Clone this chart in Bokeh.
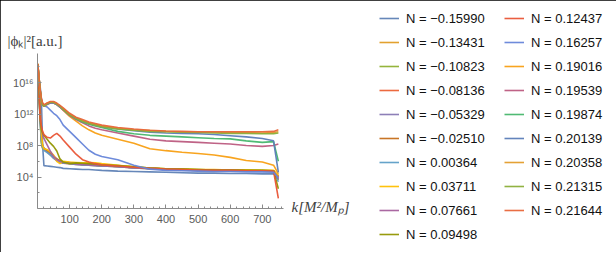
from bokeh.plotting import figure
from bokeh.models import (FixedTicker, CustomJSTickFormatter, Legend, LegendItem,
                          Title, ColumnDataSource, Range1d)
from bokeh.embed import file_html
from bokeh.resources import INLINE

# ---------------- data (log10 of |phi_k|^2) ----------------
K = [1, 4, 8, 12, 16, 20, 30, 40, 50, 60, 70, 80, 100, 120, 140, 160, 180, 200,
     250, 300, 350, 400, 450, 500, 550, 600, 650, 700, 735, 750]

N_LABELS = ["N = \u22120.15990", "N = \u22120.13431", "N = \u22120.10823", "N = \u22120.08136",
            "N = \u22120.05329", "N = \u22120.02510", "N = 0.00364", "N = 0.03711",
            "N = 0.07661", "N = 0.09498", "N = 0.12437", "N = 0.16257",
            "N = 0.19016", "N = 0.19539", "N = 0.19874", "N = 0.20139",
            "N = 0.20358", "N = 0.21315", "N = 0.21644"]

COLORS = ["#5E81B5", "#E09C24", "#8FB032", "#EB6235", "#8778B3", "#C56E1A", "#5D9EC7",
          "#FFBF00", "#A5609D", "#929600", "#E95536", "#6685D9", "#F89F13", "#BC5B80",
          "#47B66D", "#5B7DB8", "#E39C2A", "#8BAE38", "#E8663A"]

S01 = [17.6, 16.8, 15.6, 14.0, 8.0, 5.45, 5.4, 5.35, 5.3, 5.25, 5.2, 5.1, 5.05, 5.0, 4.95,
       4.95, 4.9, 4.85, 4.75, 4.7, 4.65, 4.6, 4.55, 4.5, 4.5, 4.45, 4.45, 4.4, 4.4, 4.2]
S02 = [18.2, 15.5, 12.0, 8.5, 7.6, 7.5, 7.3, 7.0, 6.6, 6.2, 6.0, 5.9, 5.8, 5.7, 5.65, 5.6,
       5.55, 5.5, 5.4, 5.25, 5.1, 5.0, 4.95, 4.9, 4.9, 4.85, 4.85, 4.8, 4.8, 3.9]
S03 = [18.1, 15.3, 11.5, 8.3, 7.7, 7.6, 7.2, 6.9, 6.5, 6.3, 5.9, 5.8, 5.85, 5.75, 5.7, 5.75,
       5.7, 5.6, 5.45, 5.3, 5.15, 5.05, 5.0, 4.95, 4.9, 4.9, 4.85, 4.85, 4.8, 3.6]
S04 = [18.3, 15.8, 12.3, 8.8, 7.8, 7.5, 7.2, 6.8, 6.4, 6.1, 5.9, 5.75, 5.7, 5.6, 5.55, 5.5,
       5.45, 5.4, 5.3, 5.15, 5.05, 4.95, 4.9, 4.85, 4.8, 4.8, 4.75, 4.75, 4.7, 4.0]
S05 = [18.0, 15.0, 11.8, 8.9, 8.0, 7.7, 7.3, 6.9, 6.5, 6.2, 6.0, 5.8, 5.75, 5.65, 5.6, 5.55,
       5.5, 5.45, 5.35, 5.2, 5.1, 5.0, 4.95, 4.9, 4.85, 4.85, 4.8, 4.8, 4.75, 3.7]
S06 = [18.2, 15.6, 12.5, 9.0, 7.9, 7.6, 7.4, 7.1, 6.7, 6.3, 6.1, 5.9, 5.8, 5.7, 5.6, 5.6,
       5.5, 5.45, 5.35, 5.2, 5.1, 5.0, 4.95, 4.9, 4.9, 4.85, 4.85, 4.8, 4.8, 4.1]
S07 = [18.1, 15.2, 11.2, 8.6, 7.7, 7.4, 7.1, 6.8, 6.4, 6.1, 5.9, 5.8, 5.7, 5.6, 5.55, 5.5,
       5.45, 5.4, 5.3, 5.15, 5.05, 4.95, 4.9, 4.85, 4.8, 4.75, 4.75, 4.7, 4.7, 3.4]
S08 = [18.4, 16.0, 13.0, 9.5, 8.0, 7.6, 7.5, 7.2, 6.8, 6.0, 5.7, 6.0, 5.9, 5.85, 5.8, 5.85,
       5.8, 5.7, 5.5, 5.3, 5.15, 5.05, 5.0, 4.95, 4.95, 4.9, 4.9, 4.85, 4.85, 4.2]
S09 = [18.2, 15.9, 13.0, 10.3, 9.4, 8.9, 8.1, 7.3, 6.6, 6.2, 6.0, 5.85, 5.75, 5.65, 5.6, 5.55,
       5.5, 5.45, 5.35, 5.2, 5.1, 5.0, 4.95, 4.9, 4.85, 4.85, 4.8, 4.8, 4.75, 3.8]
S10 = [18.3, 15.5, 11.5, 10.0, 9.6, 9.3, 8.8, 8.3, 7.9, 7.3, 6.3, 5.9, 5.7, 5.8, 5.75, 5.7,
       5.65, 5.55, 5.45, 5.3, 5.15, 5.05, 5.0, 4.95, 4.9, 4.9, 4.85, 4.85, 4.8, 2.5]
S11 = [18.3, 16.2, 11.5, 10.5, 9.8, 9.4, 9.05, 8.95, 9.3, 9.55, 9.2, 8.7, 7.8, 6.9, 6.2, 5.9,
       5.7, 5.55, 5.4, 5.25, 5.1, 5.0, 4.95, 4.9, 4.85, 4.85, 4.8, 4.8, 4.75, 1.3]
S12 = [18.3, 16.8, 15.0, 13.8, 13.3, 13.1, 12.9, 12.5, 12.1, 11.8, 11.3, 10.6, 9.8, 9.0, 8.2,
       7.4, 6.9, 6.6, 6.2, 5.5, 5.0, 4.85, 4.8, 4.75, 4.7, 4.7, 4.65, 4.65, 4.6, 3.9]
S13 = [18.3, 16.8, 15.0, 13.7, 13.1, 13.0, 13.3, 13.5, 13.4, 13.2, 12.9, 12.5, 11.7, 11.1,
       10.5, 10.0, 9.6, 9.3, 8.8, 8.3, 7.6, 7.35, 7.15, 7.0, 6.8, 6.5, 6.1, 5.9, 5.5, 4.4]
S14 = [18.2, 16.7, 14.9, 13.8, 13.2, 13.0, 13.2, 13.4, 13.4, 13.2, 12.9, 12.5, 11.8, 11.3,
       10.9, 10.5, 10.2, 10.0, 9.6, 9.2, 8.8, 8.6, 8.5, 8.4, 8.3, 8.2, 8.0, 7.9, 8.0, 8.2]
S15 = [18.3, 16.8, 15.0, 13.8, 13.2, 13.1, 13.3, 13.5, 13.5, 13.3, 13.0, 12.6, 11.9, 11.4,
       11.0, 10.7, 10.5, 10.3, 9.8, 9.5, 9.3, 9.2, 9.1, 9.0, 8.9, 8.85, 8.6, 8.4, 8.5, 6.0]
S16 = [18.3, 16.9, 15.1, 13.9, 13.3, 13.1, 13.3, 13.4, 13.4, 13.2, 12.9, 12.6, 12.0, 11.5,
       11.1, 10.8, 10.6, 10.4, 10.1, 9.9, 9.7, 9.6, 9.55, 9.5, 9.4, 9.25, 9.1, 8.9, 8.6, 4.6]
S17 = [18.4, 17.0, 15.2, 13.9, 13.3, 13.1, 13.4, 13.5, 13.5, 13.3, 13.0, 12.7, 12.0, 11.5,
       11.2, 10.9, 10.7, 10.5, 10.2, 10.0, 9.9, 9.8, 9.75, 9.7, 9.7, 9.65, 9.65, 9.6, 9.65, 9.75]
S18 = [18.3, 16.9, 15.1, 13.8, 13.2, 13.0, 13.3, 13.5, 13.5, 13.3, 13.0, 12.6, 11.9, 11.5,
       11.1, 10.8, 10.6, 10.4, 10.1, 9.95, 9.8, 9.75, 9.7, 9.65, 9.6, 9.55, 9.55, 9.5, 9.5, 9.6]
S19 = [18.4, 17.0, 15.2, 14.0, 13.4, 13.2, 13.4, 13.6, 13.6, 13.4, 13.1, 12.8, 12.1, 11.6,
       11.3, 11.0, 10.8, 10.6, 10.3, 10.1, 9.95, 9.85, 9.8, 9.75, 9.75, 9.75, 9.75, 9.75, 9.8, 10.0]

SERIES = [S01, S02, S03, S04, S05, S06, S07, S08, S09, S10,
          S11, S12, S13, S14, S15, S16, S17, S18, S19]

X_TICKS = [100, 200, 300, 400, 500, 600, 700]
X_MINOR = [20, 40, 60, 80, 120, 140, 160, 180, 220, 240, 260, 280, 320, 340, 360, 380,
           420, 440, 460, 480, 520, 540, 560, 580, 620, 640, 660, 680, 720, 740, 760]
Y_TICKS = [1e4, 1e8, 1e12, 1e16]
Y_MINOR = [1e0, 1e2, 1e6, 1e10, 1e14, 1e18]

# frame position inside the canvas (pixels)
W, H = 615, 252
FL, FR, FT, FB = 37, 283, 53, 208

# ---------------- figure ----------------
p = figure(frame_width=FR - FL, frame_height=FB - FT, y_axis_type="log",
           x_range=Range1d(0, 766), y_range=Range1d(1, 10 ** 19.7),
           output_backend="svg", toolbar_location=None,
           min_border_left=FL, min_border_right=W - FR,
           min_border_top=FT, min_border_bottom=H - FB)
p.styles = {"outline": "1.5px solid black", "outline-offset": "-1.5px"}
p.grid.visible = False
p.outline_line_color = None
p.background_fill_color = "white"
p.border_fill_color = "white"

AX = "#8a8a8a"
for ax in (p.xaxis[0], p.yaxis[0]):
    ax.axis_line_color = AX
    ax.major_tick_line_color = AX
    ax.minor_tick_line_color = AX
    ax.major_tick_in = 4
    ax.major_tick_out = 0
    ax.minor_tick_in = 2
    ax.minor_tick_out = 0
    ax.major_label_text_color = "#5a5a5a"
    ax.major_label_text_font = "Liberation Sans"
    ax.major_label_text_font_size = "11px"

p.xaxis.ticker = FixedTicker(ticks=X_TICKS, minor_ticks=X_MINOR)
p.xaxis.major_label_standoff = 6
p.yaxis.ticker = FixedTicker(ticks=Y_TICKS, minor_ticks=Y_MINOR)
p.yaxis.major_label_standoff = 4
p.yaxis.formatter = CustomJSTickFormatter(code="""
const sup = {'0':'\u2070','1':'\u00b9','2':'\u00b2','3':'\u00b3','4':'\u2074','5':'\u2075',
             '6':'\u2076','7':'\u2077','8':'\u2078','9':'\u2079'};
const e = Math.round(Math.log10(tick));
return '10' + String(e).split('').map(c => sup[c]).join('');
""")

items = []
for lab, col, s in zip(N_LABELS, COLORS, SERIES):
    src = ColumnDataSource(data=dict(k=K, v=[10 ** e for e in s]))
    r = p.line("k", "v", source=src, line_color=col, line_width=1.6, line_alpha=0.95)
    items.append(LegendItem(label=lab, renderers=[r]))

legend = Legend(items=items, location=(379 - FR, FB - 244.3), ncols=2,
                orientation="vertical", padding=0, margin=0, spacing=4,
                glyph_width=20, glyph_height=20, label_height=20, label_width=94,
                label_standoff=7, label_text_font="Liberation Sans",
                label_text_font_size="13px", label_text_color="#111111",
                border_line_alpha=0, background_fill_alpha=0)
p.add_layout(legend, "right")

# y-axis label, above the frame at the left
p.add_layout(Title(text="|\u03d5\u2096|\u00b2[a.u.]", align="left", offset=7 - FL,
                   standoff=10, vertical_align="bottom",
                   text_font="Liberation Serif", text_font_style="normal",
                   text_font_size="15px", text_color="#404040"), "above")
# x-axis label, to the right of the frame at the axis level
p.add_layout(Title(text="k[M\u00b2/M\u209a]", align="left", offset=291 - FL,
                   standoff=-54, vertical_align="top",
                   text_font="Liberation Serif", text_font_style="italic",
                   text_font_size="15px", text_color="#404040"), "below")

open("out.html", "w").write(file_html(p, INLINE))
